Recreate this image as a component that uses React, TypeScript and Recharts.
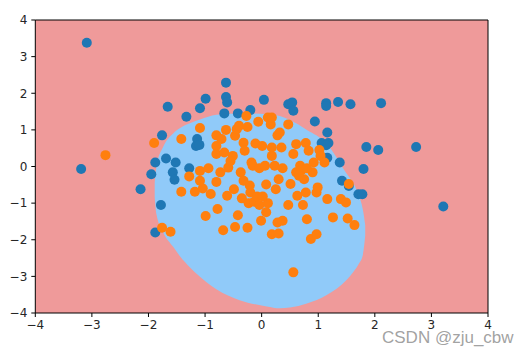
import React from "react";
import { ComposedChart, XAxis, YAxis, Scatter, Area, CartesianGrid, ReferenceLine } from "recharts";

const axisTicks = [-4, -3, -2, -1, 0, 1, 2, 3, 4];

const boundaryX = [-1.89, -1.86, -1.74, -1.56, -1.44, -1.27, -1.09, -0.8, -0.39, 0.09, 0.32, 0.5, 0.8, 1.15, 1.5, 1.62, 1.72, 1.79, 1.83];
const boundaryLow = [-0.85, -1.3, -1.8, -2.2, -2.46, -2.75, -3.01, -3.35, -3.65, -3.82, -3.87, -3.85, -3.74, -3.51, -3.1, -2.88, -2.65, -2.4, -1.9];
const boundaryHigh = [-0.45, 0.0, 0.54, 0.91, 1.05, 1.18, 1.28, 1.41, 1.45, 1.43, 1.38, 1.27, 1.0, 0.63, -0.19, -0.46, -0.8, -1.19, -1.6];

const blueX = [-3.09, -3.19, -2.14, -1.78, -1.88, -1.95, -1.88, -1.76, -1.69, -1.66, -1.52, -1.57, -1.54, -1.33, -1.28, -1.14, -1.16, -1.1, -1.09, -0.99, -0.63, -0.63, -0.61, -0.66, -0.42, -0.2, 0.04, 0.47, 0.54, 0.56, 0.94, 1.14, 1.14, 1.35, 1.57, 2.11, 1.85, 2.06, 2.73, 3.21, 1.16, 1.06, 1.18, 1.14, 1.16, 1.38, 1.8, 1.42, 1.54, 1.71, 1.78];
const blueY = [3.38, -0.07, -0.62, -1.05, -1.8, -0.21, 0.11, 0.85, 0.22, 1.63, 0.11, -0.16, -0.36, 1.36, -0.05, 0.75, 0.56, 0.59, 1.59, 1.85, 2.29, 1.9, 1.75, 1.45, 1.45, 1.54, 1.82, 1.7, 1.75, 1.52, 1.23, 1.73, 1.65, 1.76, 1.7, 1.73, 0.53, 0.45, 0.53, -1.09, 0.93, 0.64, 0.64, 0.58, 0.24, 0.11, -0.07, -0.39, -0.53, -0.76, -0.76];

const orangeX = [-2.76, -1.9, -1.76, -1.61, -1.42, -1.42, -1.28, -1.18, -1.09, -1.09, -1.09, -0.99, -0.94, -1.04, -0.9, -0.8, -0.78, -0.8, -0.8, -0.8, -0.71, -0.68, -0.73, -0.66, -0.63, -0.61, -0.59, -0.51, -0.49, -0.47, -0.47, -0.44, -0.42, -0.4, -0.37, -0.35, -0.32, -0.32, -0.3, -0.27, -0.25, -0.25, -0.23, -0.2, -0.18, -0.16, -0.13, -0.11, -0.08, -0.06, -0.04, -0.04, -0.01, 0.01, 0.06, 0.08, 0.08, 0.11, 0.11, 0.16, 0.18, 0.18, 0.18, 0.18, 0.23, 0.25, 0.28, 0.28, 0.3, 0.3, 0.32, 0.35, 0.37, 0.37, 0.47, 0.47, 0.51, 0.56, 0.56, 0.61, 0.61, 0.63, 0.68, 0.73, 0.75, 0.78, 0.78, 0.8, 0.83, 0.87, 0.9, 0.92, 0.97, 0.97, 0.99, 1.02, 1.04, 1.11, 1.16, 1.26, 1.4, 1.49, 1.52, 1.54, 1.64, 0.71, 0.8, 0.66, -0.21, 0.02, -0.55];
const orangeY = [0.31, 0.64, -1.67, -1.78, 0.75, -0.69, -0.27, -0.69, 1.05, -0.39, -0.12, -1.35, -0.05, -0.6, -0.75, -0.42, -1.16, 0.85, 0.56, 0.34, 0.75, -1.74, -0.16, 0.38, 1.0, -0.8, -0.03, 0.29, -0.62, -1.65, 0.84, 1.02, -1.33, 1.11, -0.16, -0.87, -0.39, 0.65, 0.43, 1.38, 1.08, -1.67, -1.0, -0.71, 0.11, 0.02, -0.96, 0.63, -0.82, 1.22, -1.05, -0.05, -1.48, 0.56, 0.02, -0.49, -1.25, -1.0, 1.34, 1.15, 1.34, 0.52, 0.29, -1.85, 0.02, -0.62, 0.85, -1.53, -0.35, -1.83, 0.93, 0.52, -0.05, -1.48, 1.15, -1.05, -0.48, 0.34, -2.89, 0.61, -0.16, -0.8, 0.02, -1.05, -0.35, -0.71, 0.64, -1.44, 0.43, -1.98, -0.16, 0.11, -1.85, -0.71, -0.57, 0.45, 0.29, 0.11, -0.89, -1.39, -0.89, -0.98, -1.42, -0.48, -1.6, -0.09, -0.05, -0.25, -0.52, -0.82, 0.15];

const regionData = boundaryX.map((x, i) => ({ x, band: [boundaryLow[i], boundaryHigh[i]] }));
const blueData = blueX.map((x, i) => ({ x, y: blueY[i] }));
const orangeData = orangeX.map((x, i) => ({ x, y: orangeY[i] }));

const fmt = (v: number) => (v < 0 ? "\u2212" + Math.abs(v) : String(v));
const tickStyle = { fontSize: 12, fill: "#262626", fontFamily: "DejaVu Sans" };

const dot = (color: string) => (props: any) => (
  <circle cx={props.cx} cy={props.cy} r={5} fill={color} />
);

export default function App() {
  return (
    <div style={{ position: "relative", width: 522, height: 345 }}>
      <ComposedChart
        width={522}
        height={345}
        data={regionData}
        margin={{ top: 12, right: 42, bottom: 20, left: 0 }}
      >
        <CartesianGrid horizontal={false} vertical={false} fill="#EF9A9A" fillOpacity={1} />
        <XAxis
          type="number"
          dataKey="x"
          domain={[-4, 4]}
          ticks={axisTicks}
          tickFormatter={fmt}
          allowDataOverflow
          height={20}
          tickSize={4}
          tickMargin={3}
          tick={tickStyle}
          stroke="#000"
          tickLine={{ stroke: "#000" }}
        />
        <YAxis
          type="number"
          dataKey="y"
          domain={[-4, 4]}
          ticks={axisTicks}
          tickFormatter={fmt}
          allowDataOverflow
          width={27.3}
          tickSize={4}
          tickMargin={4}
          tick={tickStyle}
          stroke="#000"
          tickLine={{ stroke: "#000" }}
        />
        <Area
          dataKey="band"
          type="monotoneX"
          fill="#90CAF9"
          fillOpacity={1}
          stroke="none"
          isAnimationActive={false}
          activeDot={false}
          dot={false}
        />
        <Scatter data={blueData} dataKey="y" fill="#1f77b4" shape={dot("#1f77b4")} isAnimationActive={false} />
        <Scatter data={orangeData} dataKey="y" fill="#ff7f0e" shape={dot("#ff7f0e")} isAnimationActive={false} />
        <ReferenceLine y={4} stroke="#000" />
        <ReferenceLine x={4} stroke="#000" />
      </ComposedChart>
      <div
        style={{
          position: "absolute",
          left: 374,
          top: 320,
          fontFamily: "Liberation Sans, Arial, sans-serif",
          fontSize: 17,
          color: "rgba(150,150,150,0.9)",
          whiteSpace: "nowrap",
          lineHeight: "20px",
        }}
      >
        CSDN @zju_cbw
      </div>
    </div>
  );
}
